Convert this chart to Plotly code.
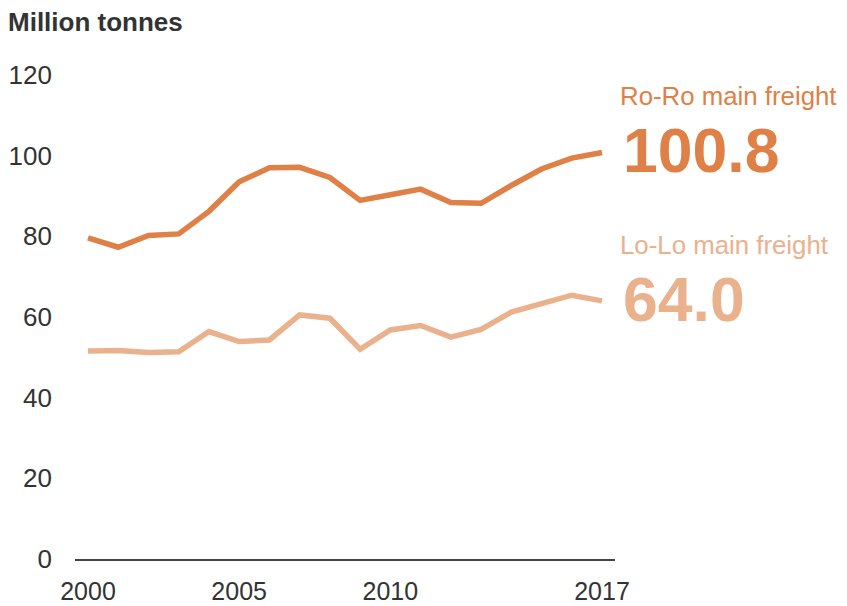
import plotly.graph_objects as go

years = list(range(2000, 2018))
ro_ro = [79.6, 77.3, 80.2, 80.6, 86.2, 93.5, 97.0, 97.1, 94.6, 88.9,
         90.3, 91.7, 88.4, 88.2, 92.6, 96.7, 99.4, 100.8]
lo_lo = [51.6, 51.7, 51.2, 51.4, 56.4, 53.9, 54.3, 60.5, 59.7, 52.0,
         56.8, 57.9, 55.0, 56.9, 61.2, 63.3, 65.4, 64.0]
series_names = ["Ro-Ro main freight", "Lo-Lo main freight"]
x_ticks = [2000, 2005, 2010, 2017]
y_ticks = [0, 20, 40, 60, 80, 100, 120]

c_ro = "#DF8046"
c_lo = "#EAB18D"
text_c = "#333333"
font = "Liberation Sans, Arial, sans-serif"

fig = go.Figure()
for vals, name, col in [(ro_ro, series_names[0], c_ro), (lo_lo, series_names[1], c_lo)]:
    fig.add_trace(go.Scatter(x=years, y=vals, mode="lines", name=name,
                             line=dict(color=col, width=5.5), cliponaxis=False))

annots = []
for vals, name, col in [(ro_ro, series_names[0], c_ro), (lo_lo, series_names[1], c_lo)]:
    annots.append(dict(x=years[-1], y=vals[-1], xref="x", yref="y", text=f"{vals[-1]:.1f}",
                       showarrow=False, xanchor="left", yanchor="middle", xshift=19, yshift=2,
                       font=dict(size=62.5, color=col, family=font, weight="bold")))
    annots.append(dict(x=years[-1], y=vals[-1], xref="x", yref="y", text=name,
                       showarrow=False, xanchor="left", yanchor="middle", xshift=16, yshift=56,
                       font=dict(size=25.8, color=col, family=font)))

fig.update_layout(
    width=839, height=598,
    margin=dict(l=67, r=232, t=67, b=47),
    paper_bgcolor="white", plot_bgcolor="white",
    showlegend=False,
    font=dict(family=font, color=text_c, size=25),
    title=dict(text="<b>Million tonnes</b>", x=0, xanchor="left", xref="container",
               y=1-14/598, yanchor="middle", yref="container",
               font=dict(size=26, color=text_c, family=font)),
    annotations=annots,
    xaxis=dict(range=[1999.57, 2017.43], tickvals=x_ticks, ticktext=[str(v) for v in x_ticks],
               showgrid=False, zeroline=False, showline=True, linecolor="#444444", linewidth=1.5,
               ticks="", ticklabelstandoff=9, automargin=False,
               tickfont=dict(size=25, color=text_c)),
    yaxis=dict(range=[0, 120], tickvals=y_ticks, showgrid=False, zeroline=False,
               showline=False, ticks="", ticklabelstandoff=22, automargin=False,
               tickfont=dict(size=26, color=text_c)),
)

fig.write_html("out.html")
